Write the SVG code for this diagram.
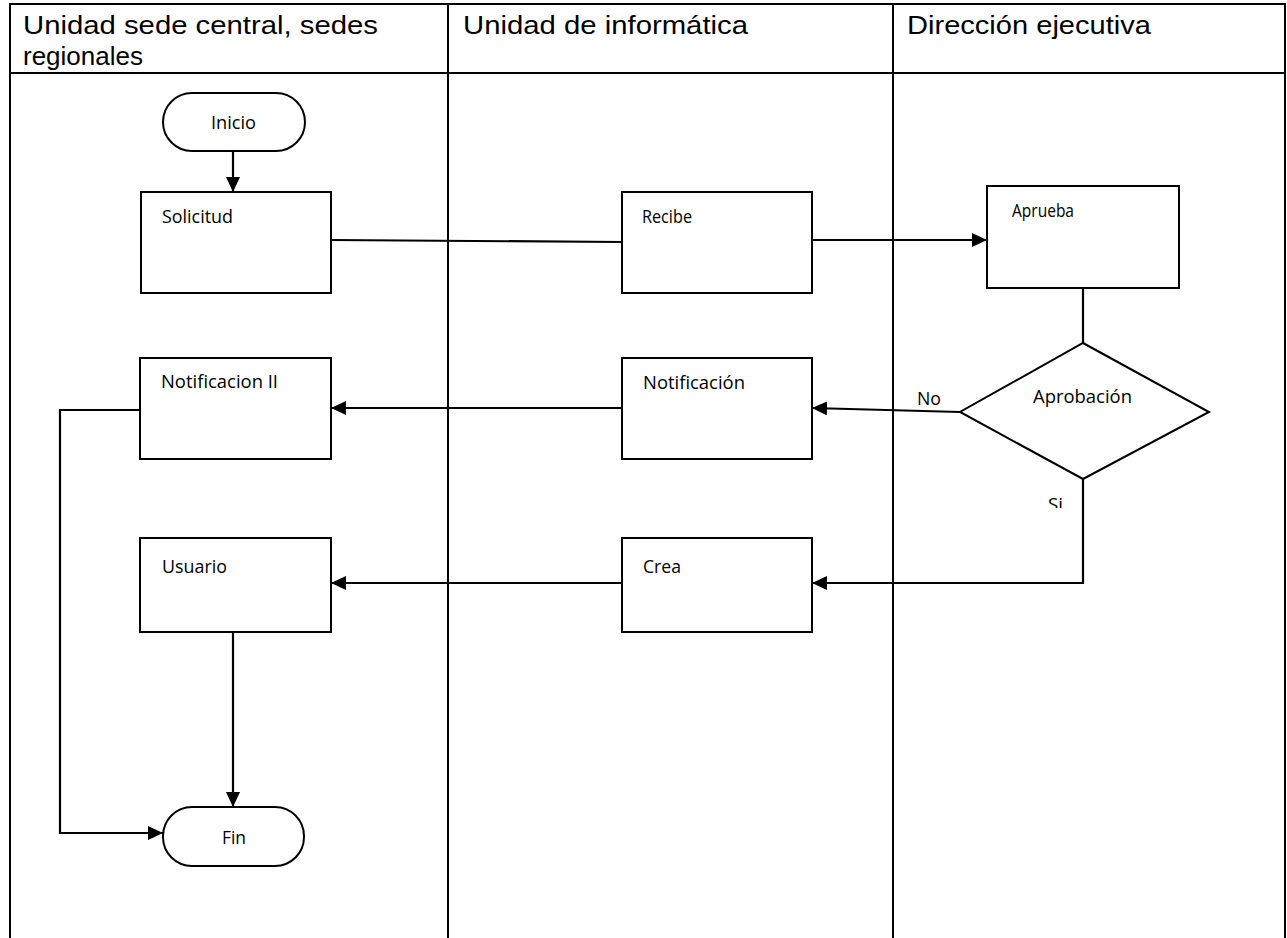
<svg xmlns="http://www.w3.org/2000/svg" width="1287" height="938" viewBox="0 0 1287 938">
  <style>
    .lane { fill: none; stroke: #000; stroke-width: 2; }
    .hdr { font-family: "Liberation Sans", Arial, sans-serif; font-size: 26px; fill: #000; }
    .box { fill: #fff; stroke: #000; stroke-width: 2; }
    .lbl { font-family: "Open Sans", "Noto Sans", sans-serif; font-size: 18px; fill: #000; }
    .edge { fill: none; stroke: #000; stroke-width: 2.2; }
    .arr { marker-end: url(#head); }
  </style>
  <defs>
    <marker id="head" viewBox="0 0 15 14" refX="15" refY="7" markerWidth="15" markerHeight="14" markerUnits="userSpaceOnUse" orient="auto">
      <path d="M0,0 L15,7 L0,14 Z" fill="#000"/>
    </marker>
    <clipPath id="siClip">
      <rect x="1030" y="480" width="60" height="28"/>
    </clipPath>
  </defs>
  <rect width="1287" height="938" fill="#fff"/>

  <!-- swimlane table -->
  <g id="lanes">
    <path class="lane" d="M10,938 V4 H1285 V938"/>
    <line class="lane" x1="10" y1="73" x2="1285" y2="73"/>
    <line class="lane" x1="448" y1="4" x2="448" y2="938"/>
    <line class="lane" x1="893" y1="4" x2="893" y2="938"/>
    <text class="hdr" x="23" y="34" textLength="355" lengthAdjust="spacingAndGlyphs">Unidad sede central, sedes</text>
    <text class="hdr" x="23" y="65" textLength="120" lengthAdjust="spacingAndGlyphs">regionales</text>
    <text class="hdr" x="463" y="34" textLength="285" lengthAdjust="spacingAndGlyphs">Unidad de informática</text>
    <text class="hdr" x="907" y="34" textLength="244" lengthAdjust="spacingAndGlyphs">Dirección ejecutiva</text>
  </g>

  <!-- connectors -->
  <g id="connectors">
    <line class="edge arr" x1="233" y1="151" x2="233" y2="192"/>
    <polyline class="edge" points="331,240 622,242"/>
    <line class="edge arr" x1="812" y1="240" x2="987" y2="240"/>
    <line class="edge" x1="1083" y1="288" x2="1083" y2="343"/>
    <line class="edge arr" x1="960" y1="412" x2="812" y2="408"/>
    <line class="edge arr" x1="622" y1="408" x2="331" y2="408"/>
    <polyline class="edge arr" points="140,410 60,410 60,833 163,833"/>
    <polyline class="edge arr" points="1083,479 1083,583 812,583"/>
    <line class="edge arr" x1="622" y1="583" x2="331" y2="583"/>
    <line class="edge arr" x1="233" y1="632" x2="233" y2="807"/>
    <text class="lbl" x="917" y="405" textLength="24" lengthAdjust="spacingAndGlyphs">No</text>
    <text class="lbl" x="1048" y="511" textLength="15" lengthAdjust="spacingAndGlyphs" clip-path="url(#siClip)">Si</text>
  </g>

  <g id="inicio">
    <rect class="box" x="163" y="93" width="142" height="58" rx="29"/>
    <text class="lbl" x="211" y="129" textLength="45" lengthAdjust="spacingAndGlyphs">Inicio</text>
  </g>
  <g id="solicitud">
    <rect class="box" x="141" y="192" width="190" height="101"/>
    <text class="lbl" x="162" y="223" textLength="71" lengthAdjust="spacingAndGlyphs">Solicitud</text>
  </g>
  <g id="recibe">
    <rect class="box" x="622" y="192" width="190" height="101"/>
    <text class="lbl" x="642" y="223" textLength="50" lengthAdjust="spacingAndGlyphs">Recibe</text>
  </g>
  <g id="aprueba">
    <rect class="box" x="987" y="186" width="192" height="102"/>
    <text class="lbl" x="1012" y="217" textLength="62" lengthAdjust="spacingAndGlyphs">Aprueba</text>
  </g>
  <g id="aprobacion">
    <polygon class="box" points="1083,343 1209,412 1083,479 960,412"/>
    <text class="lbl" x="1033" y="403" textLength="99" lengthAdjust="spacingAndGlyphs">Aprobación</text>
  </g>
  <g id="notificacion">
    <rect class="box" x="622" y="358" width="190" height="101"/>
    <text class="lbl" x="643" y="389" textLength="102" lengthAdjust="spacingAndGlyphs">Notificación</text>
  </g>
  <g id="notificacion-ii">
    <rect class="box" x="140" y="358" width="191" height="101"/>
    <text class="lbl" x="161" y="388" textLength="117" lengthAdjust="spacingAndGlyphs">Notificacion II</text>
  </g>
  <g id="crea">
    <rect class="box" x="622" y="538" width="190" height="94"/>
    <text class="lbl" x="643" y="573" textLength="38" lengthAdjust="spacingAndGlyphs">Crea</text>
  </g>
  <g id="usuario">
    <rect class="box" x="140" y="538" width="191" height="94"/>
    <text class="lbl" x="162" y="573" textLength="65" lengthAdjust="spacingAndGlyphs">Usuario</text>
  </g>
  <g id="fin">
    <rect class="box" x="163" y="807" width="141" height="59" rx="29"/>
    <text class="lbl" x="222" y="844" textLength="24" lengthAdjust="spacingAndGlyphs">Fin</text>
  </g>
</svg>
